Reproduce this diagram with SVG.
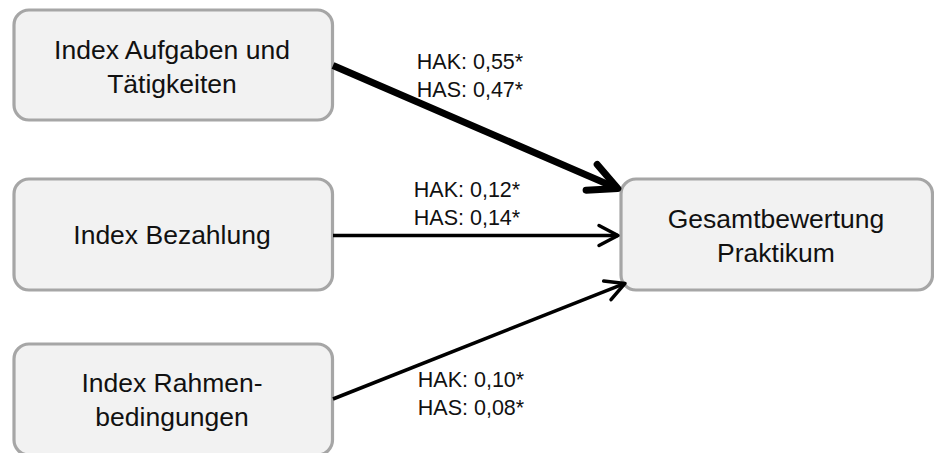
<svg xmlns="http://www.w3.org/2000/svg" width="934" height="453" viewBox="0 0 934 453">
<style>
  .box { fill: #f2f2f2; stroke: #a6a6a6; stroke-width: 3.2; }
  .nt { font-family: "Liberation Sans", Arial, sans-serif; font-size: 26.5px; fill: #111; text-anchor: middle; }
  .lt { font-family: "Liberation Sans", Arial, sans-serif; font-size: 21.5px; fill: #111; text-anchor: middle; }
  .thick { stroke: #000; stroke-width: 7; fill: none; }
  .thin { stroke: #000; stroke-width: 3.5; fill: none; }
</style>
<defs>
  <marker id="headThick" markerUnits="userSpaceOnUse" orient="auto" overflow="visible" refX="0" refY="0" markerWidth="1" markerHeight="1">
    <path d="M-28.5,-14 L0,0 L-28.5,14" fill="none" stroke="#000" stroke-width="7" stroke-linecap="round" stroke-linejoin="round"/>
  </marker>
  <marker id="headThin" markerUnits="userSpaceOnUse" orient="auto" overflow="visible" refX="0" refY="0" markerWidth="1" markerHeight="1">
    <path d="M-19,-10 L0,0 L-19,10" fill="none" stroke="#000" stroke-width="3.5" stroke-linecap="round" stroke-linejoin="round"/>
  </marker>
</defs>
<g id="node-aufgaben">
  <rect class="box" x="14" y="10" width="318.5" height="110" rx="15" ry="15"/>
  <text class="nt" x="172" y="59">Index Aufgaben und</text>
  <text class="nt" x="172" y="93">Tätigkeiten</text>
</g>
<g id="node-bezahlung">
  <rect class="box" x="14" y="179" width="318.5" height="111" rx="15" ry="15"/>
  <text class="nt" x="172" y="244">Index Bezahlung</text>
</g>
<g id="node-rahmen">
  <rect class="box" x="14" y="344" width="318.5" height="111" rx="15" ry="15"/>
  <text class="nt" x="172" y="392">Index Rahmen-</text>
  <text class="nt" x="172" y="426">bedingungen</text>
</g>
<g id="node-gesamt">
  <rect class="box" x="621" y="179" width="311.5" height="111" rx="15" ry="15"/>
  <text class="nt" x="776" y="228">Gesamtbewertung</text>
  <text class="nt" x="776" y="262">Praktikum</text>
</g>
<g id="connectors">
  <line class="thick" x1="333" y1="65.5" x2="617.8" y2="188.6" marker-end="url(#headThick)"/>
  <line class="thin" x1="333" y1="235.5" x2="618" y2="235.5" marker-end="url(#headThin)"/>
  <line class="thin" x1="333" y1="399" x2="625" y2="283.4" marker-end="url(#headThin)"/>
  <text class="lt" x="470" y="69">HAK: 0,55*</text>
  <text class="lt" x="470" y="97">HAS: 0,47*</text>
  <text class="lt" x="467" y="197">HAK: 0,12*</text>
  <text class="lt" x="467" y="225">HAS: 0,14*</text>
  <text class="lt" x="471" y="387">HAK: 0,10*</text>
  <text class="lt" x="471" y="415">HAS: 0,08*</text>
</g>
</svg>
